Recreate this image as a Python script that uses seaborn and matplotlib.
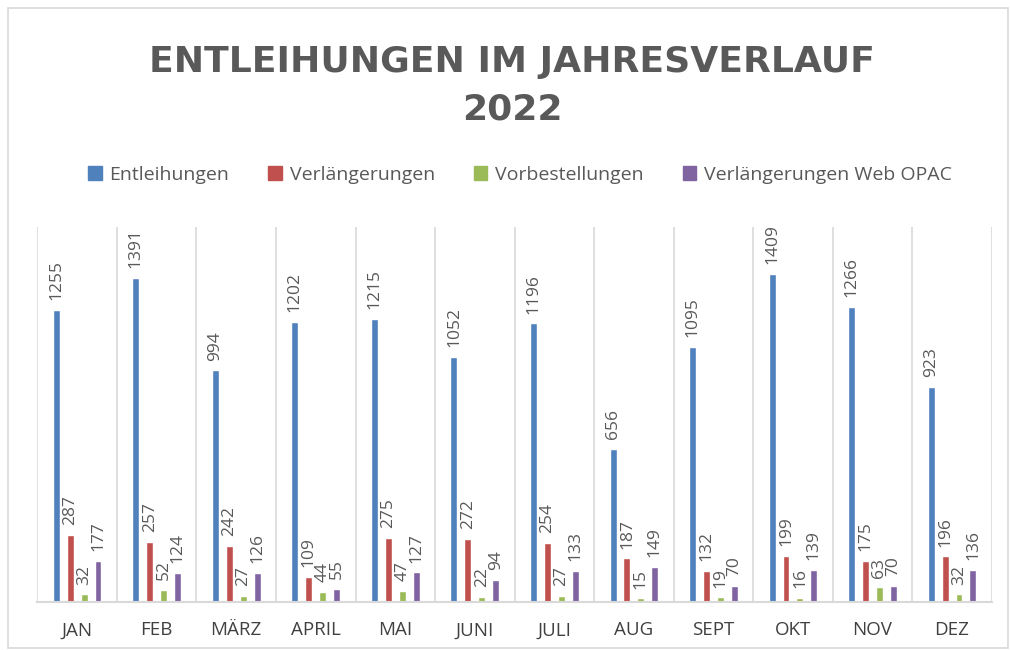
import matplotlib
matplotlib.use("Agg")
import matplotlib.pyplot as plt
import matplotlib.patches as mpatches
import seaborn as sns
import pandas as pd

months = ["JAN", "FEB", "MÄRZ", "APRIL", "MAI", "JUNI", "JULI", "AUG", "SEPT", "OKT", "NOV", "DEZ"]
series = ["Entleihungen", "Verlängerungen", "Vorbestellungen", "Verlängerungen Web OPAC"]
entleihungen = [1255, 1391, 994, 1202, 1215, 1052, 1196, 656, 1095, 1409, 1266, 923]
verlaengerungen = [287, 257, 242, 109, 275, 272, 254, 187, 132, 199, 175, 196]
vorbestellungen = [32, 52, 27, 44, 47, 22, 27, 15, 19, 16, 63, 32]
web_opac = [177, 124, 126, 55, 127, 94, 133, 149, 70, 139, 70, 136]
colors = ["#4F81BD", "#C0504D", "#9BBB59", "#8064A2"]

rows = []
for name, vals in zip(series, [entleihungen, verlaengerungen, vorbestellungen, web_opac]):
    for m, v in zip(months, vals):
        rows.append({"Monat": m, "Serie": name, "Wert": v})
df = pd.DataFrame(rows)

sns.set_theme(style="white")
plt.rcParams["font.family"] = ["Open Sans", "DejaVu Sans"]

fig = plt.figure(figsize=(10.1, 6.5), dpi=100)
ax = fig.add_axes([0.037, 0.074, 0.945, 0.577])

sns.barplot(data=df, x="Monat", y="Wert", hue="Serie", order=months, hue_order=series,
            palette=colors, width=0.7, gap=0.5, ax=ax, legend=False, saturation=1)

for cont in ax.containers:
    ax.bar_label(cont, rotation=90, padding=7, color="#595959", fontsize=12.5)

ax.set_ylim(0, 1610)
ax.set_xlim(-0.5, 11.5)
ax.set_yticks([])
ax.set_xlabel("")
ax.set_ylabel("")
ax.set_xticks(range(len(months)))
ax.set_xticklabels(months, fontsize=13.5, color="#404040")
ax.tick_params(axis="x", length=0, pad=14)
ax.set_xticks([i - 0.5 for i in range(len(months) + 1)], minor=True)
ax.tick_params(axis="x", which="minor", length=0)
ax.grid(True, which="minor", axis="x", color="#D9D9D9", linewidth=1.2)
ax.grid(False, which="major")
for s in ["top", "right", "left"]:
    ax.spines[s].set_visible(False)
ax.spines["bottom"].set_color("#D9D9D9")
ax.spines["bottom"].set_linewidth(1.5)

fig.text(0.507, 0.905, "ENTLEIHUNGEN IM JAHRESVERLAUF", ha="center", va="center",
         fontsize=26, fontweight="bold", color="#595959", family="DejaVu Sans")
fig.text(0.507, 0.832, "2022", ha="center", va="center",
         fontsize=26, fontweight="bold", color="#595959", family="DejaVu Sans")

handles = [mpatches.Patch(color=c, label=s) for c, s in zip(colors, series)]
fig.legend(handles=handles, loc="center", bbox_to_anchor=(0.515, 0.731), ncol=4, frameon=False,
           fontsize=14, handlelength=0.7, handleheight=0.7, handletextpad=0.4, columnspacing=2.0,
           labelcolor="#595959")

fig.patches.append(mpatches.Rectangle((0.008, 0.003), 0.99, 0.985, transform=fig.transFigure,
                                      fill=False, edgecolor="#D9D9D9", linewidth=1.2))

fig.savefig("out.png", dpi=100)
